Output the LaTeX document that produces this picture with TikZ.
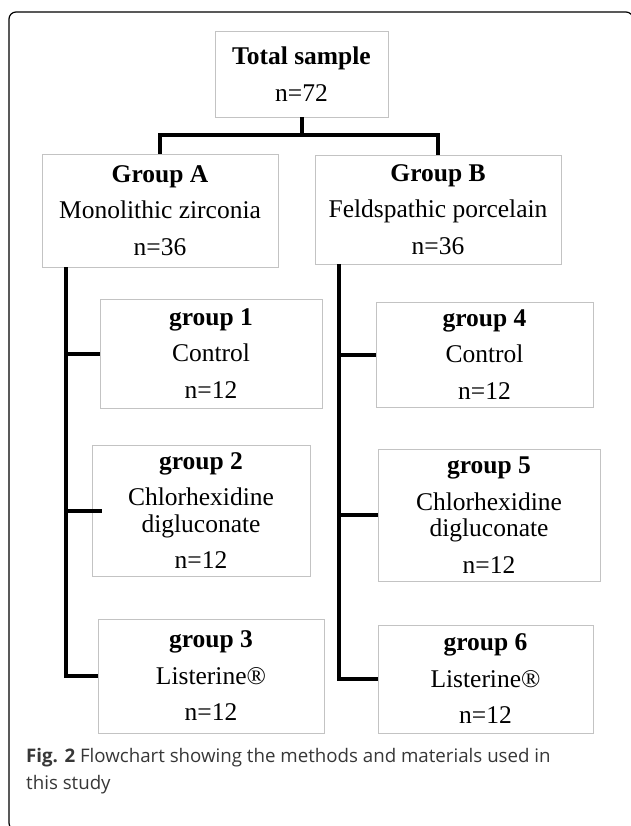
\documentclass[tikz,border=0pt]{standalone}
\usepackage{fontspec}
\setmainfont{Liberation Serif}
\newfontfamily\capfont{Open Sans}
\usetikzlibrary{shadows}

\definecolor{boxline}{RGB}{195,195,195}
\definecolor{capgray}{RGB}{55,55,55}

\tikzset{
	grpbox/.style={shape=rectangle, draw=boxline, line width=0.9pt, fill=white, align=center, inner sep=0pt,
		font=\fontsize{25.5}{36.5}\selectfont,
		drop shadow={shadow xshift=1.3pt, shadow yshift=-1.3pt, opacity=0.3, fill=black!70}},
	link/.style={-, line width=4pt, black},
}

\begin{document}
\begin{tikzpicture}[x=1pt, y=-1pt]
	
	\useasboundingbox (0,0) rectangle (630,826);
	\draw[line width=1.2pt, rounded corners=7pt] (9,12) rectangle (633,830);
	
	\node[grpbox, minimum width=173pt, minimum height=86pt] (total) at (301.5, 74)  {\textbf{Total sample}\\n=72};
	\node[grpbox, minimum width=236pt, minimum height=113pt] (grpA) at (160, 210.5) {\textbf{Group A}\\Monolithic zirconia\\n=36};
	\node[grpbox, minimum width=246pt, minimum height=109pt] (grpB) at (438, 209.5) {\textbf{Group B}\\Feldspathic porcelain\\n=36};
	
	\node[grpbox, minimum width=222pt, minimum height=109pt] (g1) at (211, 353.5)   {\textbf{group 1}\\Control\\n=12};
	\node[grpbox, minimum width=218pt, minimum height=131pt] (g2) at (201, 510.5)   {\textbf{group 2}\\Chlorhexidine\\[-10pt]digluconate\\n=12};
	\node[grpbox, minimum width=226pt, minimum height=114pt] (g3) at (211, 676)     {\textbf{group 3}\\Listerine®\\n=12};
	
	\node[grpbox, minimum width=217pt, minimum height=105pt] (g4) at (484.5, 354.5) {\textbf{group 4}\\Control\\n=12};
	\node[grpbox, minimum width=222pt, minimum height=132pt] (g5) at (489, 515)     {\textbf{group 5}\\Chlorhexidine\\[-10pt]digluconate\\n=12};
	\node[grpbox, minimum width=215pt, minimum height=108pt] (g6) at (485.5, 679)   {\textbf{group 6}\\Listerine®\\n=12};
	
	\coordinate (trunkA) at ([xshift=24pt]grpA.south west);
	\coordinate (trunkB) at ([xshift=24pt]grpB.south west);
	
	\draw[link] (total.south) -- ++(0,18) -| (grpA.north);
	\draw[link] (total.south) -- ++(0,18) -| (grpB.north);
	
	\draw[link] (trunkA) |- (g3.west);
	\draw[link] (trunkA |- g1.west) -- (g1.west);
	\draw[link] (trunkA |- g2.west) -- ([xshift=10pt]g2.west);
	
	\draw[link] (trunkB) |- (g6.west);
	\draw[link] (trunkB |- g4.west) -- (g4.west);
	\draw[link] (trunkB |- g5.west) -- (g5.west);
	
	\node[anchor=base west, align=left, inner sep=0pt, text=capgray, font=\capfont\fontsize{18.7}{27}\selectfont] (caption) at (26, 789)
		{\textbf{Fig. 2} Flowchart showing the methods and materials used in\\this study};
	
\end{tikzpicture}
\end{document}
